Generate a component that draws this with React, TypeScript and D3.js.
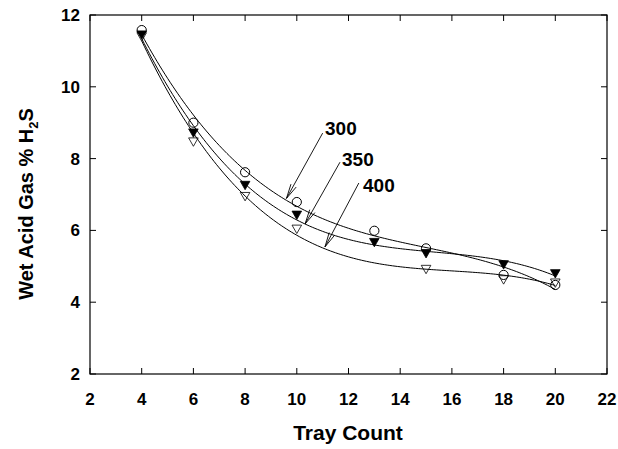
import React from "react";
import * as d3 from "d3";

const xTicks = [2, 4, 6, 8, 10, 12, 14, 16, 18, 20, 22];
const yTicks = [2, 4, 6, 8, 10, 12];

const x300 = [4, 6, 8, 10, 13, 15, 18, 20];
const y300 = [11.58, 9.0, 7.62, 6.79, 5.99, 5.5, 4.76, 4.48];
const x350 = [4, 6, 8, 10, 13, 15, 18, 20];
const y350 = [11.45, 8.72, 7.26, 6.43, 5.67, 5.36, 5.05, 4.8];
const x400 = [4, 6, 8, 10, 15, 18, 20];
const y400 = [11.4, 8.47, 6.95, 6.04, 4.92, 4.63, 4.54];

const labels = ["300", "350", "400"];

function polyFit(xs: number[], ys: number[], deg: number) {
  const m = deg + 1;
  const A: number[][] = Array.from({ length: m }, () => new Array(m + 1).fill(0));
  const xm = d3.mean(xs) as number;
  for (let k = 0; k < xs.length; k++) {
    const t = xs[k] - xm;
    for (let i = 0; i < m; i++) {
      for (let j = 0; j < m; j++) A[i][j] += Math.pow(t, i + j);
      A[i][m] += ys[k] * Math.pow(t, i);
    }
  }
  for (let i = 0; i < m; i++) {
    let p = i;
    for (let r = i + 1; r < m; r++) if (Math.abs(A[r][i]) > Math.abs(A[p][i])) p = r;
    [A[i], A[p]] = [A[p], A[i]];
    for (let r = 0; r < m; r++) {
      if (r === i) continue;
      const f = A[r][i] / A[i][i];
      for (let c = i; c <= m; c++) A[r][c] -= f * A[i][c];
    }
  }
  const coef = A.map((row, i) => row[m] / row[i]);
  return (x: number) => coef.reduce((s, c, i) => s + c * Math.pow(x - xm, i), 0);
}

export default function App() {
  const W = 618, H = 449;
  const L = 90, R = 607, T = 15, B = 374;
  const xs = d3.scaleLinear().domain([2, 22]).range([L, R]);
  const ys = d3.scaleLinear().domain([2, 12]).range([B, T]);
  const series = [
    { xv: x300, yv: y300, marker: "circle" },
    { xv: x350, yv: y350, marker: "filled" },
    { xv: x400, yv: y400, marker: "open" },
  ];
  const line = d3.line<[number, number]>().x(d => xs(d[0])).y(d => ys(d[1]));
  const font = "'Liberation Sans', Arial, sans-serif";
  const tri = (cx: number, cy: number, s: number) =>
    `M${cx - s},${cy - s * 0.8}L${cx + s},${cy - s * 0.8}L${cx},${cy + s * 0.95}Z`;

  const arrows = [
    { lx: 325, ly: 135, from: [11.0, 8.71], to: [9.6, 6.89] },
    { lx: 342, ly: 166, from: [11.67, 7.9], to: [10.32, 6.18] },
    { lx: 363, ly: 192, from: [12.4, 7.32], to: [11.09, 5.54] },
  ];

  return (
    <svg width={W} height={H} style={{ position: "absolute", left: 0, top: 0 }}>
      <rect x={0} y={0} width={W} height={H} fill="white" />
      {series.map((s, i) => {
        const f = polyFit(s.xv, s.yv, 3);
        const pts: [number, number][] = d3.range(4, 20.001, 0.1).map(x => [x, f(x)]);
        return <path key={i} d={line(pts) || ""} fill="none" stroke="black" strokeWidth={1} />;
      })}
      {series.map((s, i) =>
        s.xv.map((xv, j) => {
          const cx = xs(xv), cy = ys(s.yv[j]);
          if (s.marker === "circle")
            return <circle key={`${i}-${j}`} cx={cx} cy={cy} r={4.6} fill="white" fillOpacity={0} stroke="black" strokeWidth={1} />;
          return (
            <path key={`${i}-${j}`} d={tri(cx, cy, 4.8)} fill={s.marker === "filled" ? "black" : "white"} fillOpacity={s.marker === "filled" ? 1 : 0} stroke="black" strokeWidth={0.8} />
          );
        })
      )}
      {arrows.map((a, i) => {
        const x1 = xs(a.from[0]), y1 = ys(a.from[1]);
        const x2 = xs(a.to[0]), y2 = ys(a.to[1]);
        const ang = Math.atan2(y1 - y2, x1 - x2);
        const hl = 15, spread = 0.2;
        const h1 = [x2 + hl * Math.cos(ang + spread), y2 + hl * Math.sin(ang + spread)];
        const h2 = [x2 + hl * Math.cos(ang - spread), y2 + hl * Math.sin(ang - spread)];
        return (
          <g key={i} stroke="black" strokeWidth={0.9}>
            <line x1={x1} y1={y1} x2={x2} y2={y2} />
            <line x1={x2} y1={y2} x2={h1[0]} y2={h1[1]} />
            <line x1={x2} y1={y2} x2={h2[0]} y2={h2[1]} />
            <text x={a.lx} y={a.ly} stroke="none" fontFamily={font} fontWeight="bold" fontSize={19}>{labels[i]}</text>
          </g>
        );
      })}
      <rect x={L} y={T} width={R - L} height={B - T} fill="none" stroke="black" strokeWidth={1.2} />
      {xTicks.map(t => (
        <g key={"x" + t}>
          <line x1={xs(t)} x2={xs(t)} y1={B} y2={B - 6} stroke="black" />
          <line x1={xs(t)} x2={xs(t)} y1={T} y2={T + 6} stroke="black" />
          <text x={xs(t)} y={405} textAnchor="middle" fontFamily={font} fontWeight="bold" fontSize={17}>{t}</text>
        </g>
      ))}
      {yTicks.map(t => (
        <g key={"y" + t}>
          <line x1={L} x2={L + 6} y1={ys(t)} y2={ys(t)} stroke="black" />
          <line x1={R} x2={R - 6} y1={ys(t)} y2={ys(t)} stroke="black" />
          <text x={80} y={ys(t) + 6} textAnchor="end" fontFamily={font} fontWeight="bold" fontSize={17}>{t}</text>
        </g>
      ))}
      <text x={348} y={440} textAnchor="middle" fontFamily={font} fontWeight="bold" fontSize={21}>Tray Count</text>
      <text transform={`translate(33,204) rotate(-90)`} textAnchor="middle" fontFamily={font} fontWeight="bold" fontSize={20}>
        Wet Acid Gas % H<tspan fontSize={13} dy={5}>2</tspan><tspan dy={-5}>S</tspan>
      </text>
    </svg>
  );
}
